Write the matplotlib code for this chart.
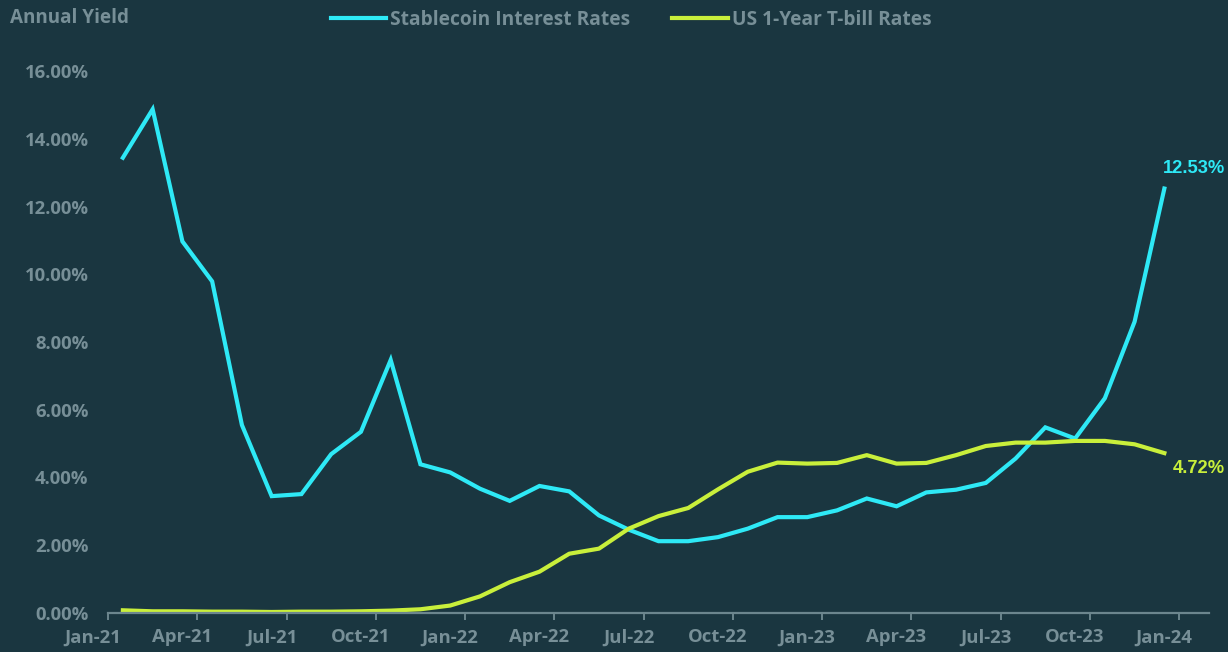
import numpy as np
import matplotlib
matplotlib.use("Agg")
import matplotlib.pyplot as plt
import matplotlib.transforms as mtransforms

# ---- data ----
months = ["Jan-21", "Feb-21", "Mar-21", "Apr-21", "May-21", "Jun-21", "Jul-21", "Aug-21", "Sep-21",
          "Oct-21", "Nov-21", "Dec-21", "Jan-22", "Feb-22", "Mar-22", "Apr-22", "May-22", "Jun-22",
          "Jul-22", "Aug-22", "Sep-22", "Oct-22", "Nov-22", "Dec-22", "Jan-23", "Feb-23", "Mar-23",
          "Apr-23", "May-23", "Jun-23", "Jul-23", "Aug-23", "Sep-23", "Oct-23", "Nov-23", "Dec-23"]
stablecoin = [13.44, 14.87, 10.97, 9.79, 5.55, 3.45, 3.51, 4.69, 5.35, 7.47, 4.39, 4.15,
              3.67, 3.31, 3.75, 3.59, 2.88, 2.46, 2.12, 2.12, 2.24, 2.49, 2.83, 2.83,
              3.03, 3.38, 3.15, 3.56, 3.64, 3.84, 4.56, 5.48, 5.15, 6.34, 8.60, 12.53]
tbill = [0.08, 0.05, 0.05, 0.04, 0.04, 0.03, 0.04, 0.04, 0.05, 0.07, 0.11, 0.22,
         0.49, 0.91, 1.22, 1.75, 1.90, 2.49, 2.86, 3.10, 3.65, 4.17, 4.44, 4.41,
         4.43, 4.66, 4.41, 4.43, 4.66, 4.93, 5.03, 5.03, 5.08, 5.08, 4.98, 4.72]
tick_labels = ["Jan-21", "Apr-21", "Jul-21", "Oct-21", "Jan-22", "Apr-22", "Jul-22", "Oct-22",
               "Jan-23", "Apr-23", "Jul-23", "Oct-23", "Jan-24"]
y_ticks = [0, 2, 4, 6, 8, 10, 12, 14, 16]

BG = "#1a3640"
CYAN = "#2ee9f6"
LIME = "#c9ef3b"
GRAY = "#778f97"
AXIS = "#6c868e"

fig = plt.figure(figsize=(12.28, 6.52), dpi=100, facecolor=BG)
ax = fig.add_axes([108/1228, 1 - 613/652, (1209-108)/1228, (613-71)/652])
ax.set_facecolor(BG)

x = np.arange(len(months)) + 0.5
ax.plot(x, stablecoin, color=CYAN, lw=3.0, solid_joinstyle="miter", label="Stablecoin Interest Rates")
ax.plot(x, tbill, color=LIME, lw=3.0, label="US 1-Year T-bill Rates")

ax.set_xlim(0, 37)
ax.set_ylim(0, 16)
ax.set_yticks(y_ticks)
ax.set_yticklabels([f"{v:.2f}%" for v in y_ticks])
ax.set_xticks(np.arange(len(tick_labels)) * 3)
ax.set_xticklabels(tick_labels)

for s in ["top", "right", "left"]:
    ax.spines[s].set_visible(False)
ax.spines["bottom"].set_color(AXIS)
ax.spines["bottom"].set_linewidth(1.6)

ax.tick_params(axis="y", length=0, pad=14, labelcolor=GRAY, labelsize=13.3)
ax.tick_params(axis="x", length=5, width=1.4, color=AXIS, pad=6, labelcolor=GRAY, labelsize=13.3)
for lab in ax.get_yticklabels() + ax.get_xticklabels():
    lab.set_fontfamily("Open Sans")
    lab.set_fontweight("bold")
offset = mtransforms.ScaledTranslation(-15/100, 0, fig.dpi_scale_trans)
for lab in ax.get_xticklabels():
    lab.set_transform(lab.get_transform() + offset)

fig.text(10/1228, 1 - 18/652, "Annual Yield", color=GRAY, fontsize=13.6, fontweight="bold",
         family="Open Sans", ha="left", va="center")

leg = fig.legend(loc="center", bbox_to_anchor=(631/1228, 1 - 20/652), ncol=2, frameon=False,
                 handlelength=2.9, handletextpad=0.2, columnspacing=2.2,
                 prop={"family": "Open Sans", "weight": "bold", "size": 13.8})
for t in leg.get_texts():
    t.set_color(GRAY)

ax.annotate(f"{stablecoin[-1]:.2f}%", (x[-1], stablecoin[-1]), xytext=(-1, 12),
            textcoords="offset pixels", ha="left", va="bottom", color=CYAN,
            fontsize=13.2, fontweight="bold", family="Liberation Sans", annotation_clip=False)
ax.annotate(f"{tbill[-1]:.2f}%", (x[-1], tbill[-1]), xytext=(8, -15),
            textcoords="offset pixels", ha="left", va="center", color=LIME,
            fontsize=13.2, fontweight="bold", family="Liberation Sans", annotation_clip=False)

fig.savefig("out.png", dpi=100, facecolor=BG)
